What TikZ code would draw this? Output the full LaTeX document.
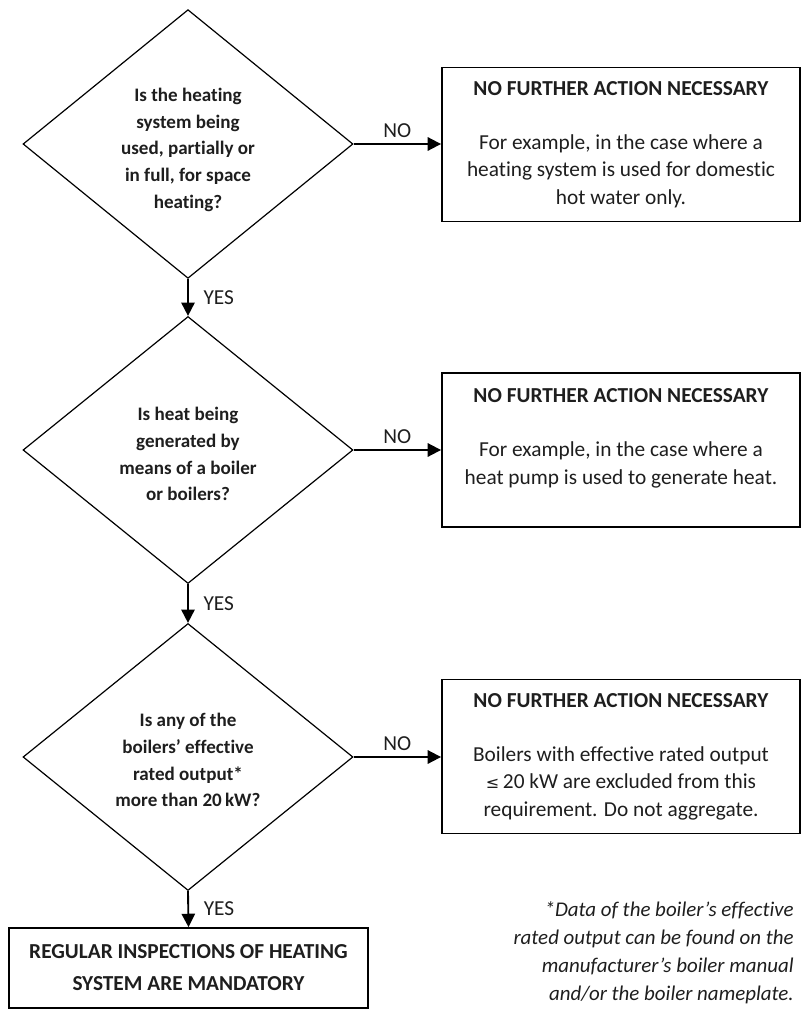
\documentclass[tikz,border=0pt]{standalone}
\usepackage{fontspec}
\setmainfont{Carlito}[Ligatures=NoCommon]
\usetikzlibrary{shapes.geometric,arrows.meta}
\definecolor{ink}{HTML}{1E1E1E}
% invisible strut that adds room above the first line of a text block
\newcommand\headroom[1]{\rule{0pt}{#1}}
\begin{document}
\begin{tikzpicture}[x=0.75pt,y=-0.75pt,
  every node/.style={text=ink},
  question/.style={diamond, draw=black, line width=0.9pt, inner sep=0pt,
    minimum width=330*0.75pt, minimum height=267*0.75pt, align=center,
    font=\fontsize{14.3}{20}\selectfont\bfseries},
  outcome/.style={rectangle, draw=black, line width=1.4pt, inner sep=0pt,
    minimum width=358*0.75pt, minimum height=154*0.75pt, align=center,
    font=\fontsize{16}{20.6}\selectfont},
  final/.style={rectangle, draw=black, line width=1.4pt, inner sep=0pt,
    minimum width=359*0.75pt, minimum height=80*0.75pt, align=center,
    font=\fontsize{16}{24}\selectfont\bfseries},
  flow/.style={line width=1.4pt, -{Triangle[length=10pt,width=10pt]}},
  answer/.style={font=\fontsize{16}{18}\selectfont, inner sep=1pt},
  note/.style={font=\fontsize{15.7}{21}\selectfont\itshape, align=right, inner sep=0pt}]
\useasboundingbox (0,0) rectangle (803,1010);

% decision diamonds down the left column
\node[question] (q1) at (188,144) {\headroom{18.8pt}Is the heating\\system being\\used, partially or\\in full, for space\\heating?};
\node[question] (q2) at (188,450) {\headroom{16.5pt}Is heat being\\generated by\\means of a boiler\\or boilers?};
\node[question] (q3) at (188,757) {\headroom{15pt}Is any of the\\boilers’ effective\\rated output*\\more than 20\,kW?};

% outcome boxes on the right
\node[outcome] (o1) at (621,144.5) {\textbf{NO FURTHER ACTION NECESSARY}\\[20pt]For example, in the case where a\\heating system is used for domestic\\hot water only.};
\node[outcome] (o2) at (621,450) {\textbf{NO FURTHER ACTION NECESSARY}\\[20pt]For example, in the case where a\\heat pump is used to generate heat.\\\mbox{}};
\node[outcome] (o3) at (621,756.5) {\textbf{NO FURTHER ACTION NECESSARY}\\[20pt]Boilers with effective rated output\\{\fontspec{DejaVu Sans}\fontsize{12}{20}\selectfont ≤}\,20 kW are excluded from this\\requirement. Do not aggregate.};

% final result
\node[final] (res) at (188.5,968) {REGULAR INSPECTIONS OF HEATING\\SYSTEM ARE MANDATORY};

% connectors
\draw[flow] (q1.east) -- (q1.east -| o1.west) node[answer, midway, above=3pt] (no1) {NO};
\draw[flow] (q2.east) -- (q2.east -| o2.west) node[answer, midway, above=3pt] (no2) {NO};
\draw[flow] (q3.east) -- (q3.east -| o3.west) node[answer, midway, above=3pt] (no3) {NO};
\draw[flow] (q1.south) -- (q2.north) node[answer, midway, right=10pt] (yes1) {YES};
\draw[flow] (q2.south) -- (q3.north) node[answer, midway, right=10pt] (yes2) {YES};
\draw[flow] (q3.south) -- (res.north) node[answer, midway, right=10pt] (yes3) {YES};

% footnote on the rated output
\node[note, anchor=north east] (fn) at (794,901) {*Data of the boiler’s effective\\rated output can be found on the\\manufacturer’s boiler manual\\and/or the boiler nameplate.};
\end{tikzpicture}
\end{document}
